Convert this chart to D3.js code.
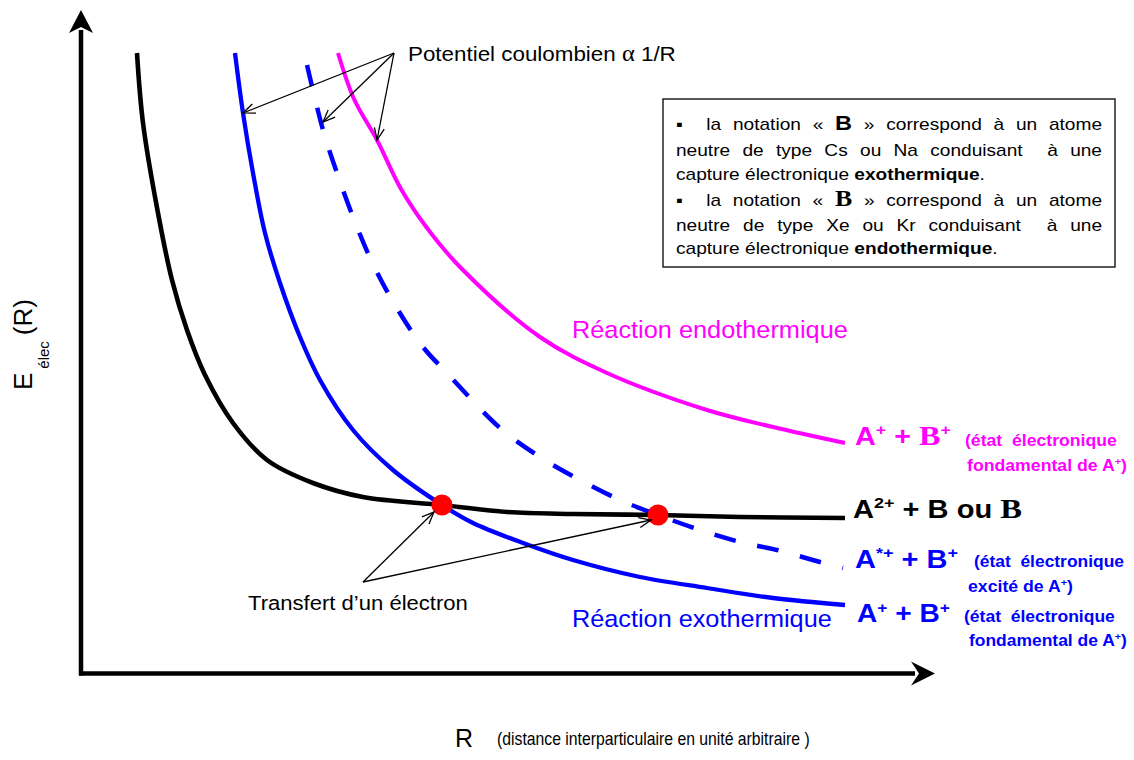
<!DOCTYPE html>
<html><head><meta charset="utf-8">
<script src="https://cdn.jsdelivr.net/npm/d3@7"></script>
<style>
body{margin:0;background:#fff}
svg{display:block}
text{font-family:Arial,"Liberation Sans",sans-serif;white-space:pre}
</style>
</head><body>
<svg id="c" width="1134" height="760"></svg>
<script>
// ---- data (arbitrary units) ----
const blackR=[5.7,6.3,7.8,9.2,10.7,12.5,15.3,18.7,23.3,28.3,36.2,42.7,49.3,57.8,66.0,76.5];
const blackE=[62.2,55.2,46.2,39.5,34.5,30.0,25.2,21.5,19.2,17.8,17.0,16.3,16.1,16.0,15.8,15.7];
const exoR=[15.5,16.3,17.3,18.5,20.0,22.0,24.0,27.3,31.3,36.2,39.3,44.3,49.3,56.0,62.7,69.3,76.5];
const exoE=[62.2,56.2,50.2,44.2,39.2,33.8,29.5,24.5,20.5,17.0,15.2,13.2,11.5,9.8,8.7,7.7,7.0];
const excR=[22.7,24.3,25.7,27.3,29.2,31.5,34.3,36.7,42.0,46.0,50.0,54.0,57.8,62.0,66.0,69.7,74.0,76.3];
const excE=[61.0,54.5,50.2,45.8,41.3,37.0,32.8,30.2,24.7,21.8,19.5,17.5,16.0,14.5,13.3,12.5,11.3,10.7];
const endoR=[25.8,27.4,29.7,32.1,34.7,38.0,46.0,52.7,62.7,69.3,76.5];
const endoE=[62.2,57.6,53.5,48.6,44.7,40.8,33.8,30.2,26.5,24.8,23.2];
const crossR=[36.2,57.8];
const crossE=[17.0,16.0];
// annotation arrows: origin -> targets
const coulombFrom=[31.4,62.2];
const coulombTo=[[16.3,56.2],[24.3,55.3],[29.7,53.5]];
const transferFrom=[28.3,9.3];
const transferTo=[[35.4,16.3],[57.1,15.5]];

const M='#FF00FF', BL='#0000FF', RED='#FF0000';
const svg=d3.select('#c');
const x=d3.scaleLinear().domain([0,85]).range([80,930]);
const y=d3.scaleLinear().domain([0,66.5]).range([675,10]);
const zip=(a,b)=>a.map((v,i)=>[v,b[i]]);
const line=d3.line().x(d=>x(d[0])).y(d=>y(d[1])).curve(d3.curveCatmullRom.alpha(0.5));

const defs=svg.append('defs');
defs.append('marker').attr('id','open').attr('viewBox','-14 -8 16 16')
  .attr('markerWidth',16).attr('markerHeight',16).attr('markerUnits','userSpaceOnUse')
  .attr('refX',0).attr('refY',0).attr('orient','auto')
  .append('path').attr('d','M-12,-5L0,0L-12,5').attr('fill','none').attr('stroke','#000').attr('stroke-width',1.3);

// ---- axes ----
const ax=x(0.1), ay=y(0.15);
svg.append('line').attr('x1',ax).attr('y1',ay+2).attr('x2',ax).attr('y2',y(64.5))
  .attr('stroke','#000').attr('stroke-width',4.5);
const ty=y(66.5);
svg.append('path').attr('d',`M${ax},${ty}L${ax-12},${ty+23}L${ax},${ty+17}L${ax+12},${ty+23}Z`).attr('fill','#000');
svg.append('line').attr('x1',ax-2).attr('y1',ay).attr('x2',x(83.5)).attr('y2',ay)
  .attr('stroke','#000').attr('stroke-width',4.5);
const tx=x(85.5);
svg.append('path').attr('d',`M${tx},${ay}L${tx-24},${ay-12}L${tx-16},${ay}L${tx-24},${ay+12}Z`).attr('fill','#000');

// ---- curves ----
svg.append('path').attr('d',line(zip(endoR,endoE))).attr('fill','none').attr('stroke',M).attr('stroke-width',4);
svg.append('path').attr('d',line(zip(excR,excE))).attr('fill','none').attr('stroke',BL).attr('stroke-width',4.5).attr('stroke-dasharray','22,22');
svg.append('path').attr('d',line(zip(exoR,exoE))).attr('fill','none').attr('stroke',BL).attr('stroke-width',4.3);
svg.append('path').attr('d',line(zip(blackR,blackE))).attr('fill','none').attr('stroke','#000').attr('stroke-width',4.6);
svg.selectAll('circle.cross').data(zip(crossR,crossE)).enter().append('circle').attr('class','cross')
  .attr('cx',d=>x(d[0])).attr('cy',d=>y(d[1])).attr('r',10.5).attr('fill',RED);

// ---- annotation arrows ----
function arrows(from,tos){
  tos.forEach(t=>{
    svg.append('line').attr('x1',x(from[0])).attr('y1',y(from[1])).attr('x2',x(t[0])).attr('y2',y(t[1]))
      .attr('stroke','#000').attr('stroke-width',1.3).attr('marker-end','url(#open)');
  });
}
arrows(coulombFrom,coulombTo);
arrows(transferFrom,transferTo);

// ---- text helpers ----
function rich(parent,x0,yb,size,fill,weight,segs){
  const t=parent.append('text').attr('x',x0).attr('y',yb).attr('font-size',size).attr('fill',fill).attr('font-weight',weight);
  let cur=0;
  segs.forEach(s=>{
    if(typeof s==='string') s={t:s};
    const target=s.sup?-size*0.38:(s.sub||0);
    const ts=t.append('tspan').text(s.t);
    if(target!==cur) ts.attr('dy',target-cur);
    cur=target;
    if(s.dx) ts.attr('dx',s.dx);
    if(s.sup) ts.attr('font-size',size*0.62);
    if(s.size) ts.attr('font-size',s.size);
    if(s.serif) ts.attr('font-family','"Liberation Serif","Times New Roman",serif');
    if(s.w) ts.attr('font-weight',s.w);
  });
  return t;
}
function fit(t,w){
  const n=t.node().getComputedTextLength();
  const x0=+t.attr('x'), k=w/n;
  t.attr('transform',`translate(${x0},0) scale(${k},1) translate(${-x0},0)`);
  return t;
}

// ---- labels ----
fit(rich(svg,408,61.5,21,'#000','normal',['Potentiel coulombien ',{t:'α',serif:1,size:23},' 1/R']),268);
fit(rich(svg,248,610,21,'#000','normal',['Transfert d’un électron']),220);
fit(rich(svg,572,338.5,24,M,'normal',['Réaction endothermique']),276);
fit(rich(svg,572,627,24,BL,'normal',['Réaction exothermique']),260);
rich(svg,455,747,25,'#000','normal',['R']);
fit(rich(svg,497,745,17.5,'#000','normal',['(distance interparticulaire en unité arbitraire )']),313);

// right-hand labels
fit(rich(svg,855,445,25,M,'bold',['A',{t:'+',sup:1},' + ',{t:'B',serif:1,size:28},{t:'+',sup:1}]),96);
fit(rich(svg,965,446.5,16,M,'bold',['(état  électronique']),152);
fit(rich(svg,967,471.5,16,M,'bold',['fondamental de A',{t:'+',sup:1},')']),160);
fit(rich(svg,853,518,25,'#000','bold',['A',{t:'2+',sup:1},' + B ou ',{t:'B',serif:1,size:28}]),169);
fit(rich(svg,855,568,25,BL,'bold',['A',{t:'*+',sup:1},' + B',{t:'+',sup:1}]),103);
fit(rich(svg,974,567.5,16,BL,'bold',['(état  électronique']),150);
fit(rich(svg,968,592.5,16,BL,'bold',['excité de A',{t:'+',sup:1},')']),105);
fit(rich(svg,857,622.5,25,BL,'bold',['A',{t:'+',sup:1},' + B',{t:'+',sup:1}]),93);
fit(rich(svg,964,622,16,BL,'bold',['(état  électronique']),151);
fit(rich(svg,969,646.5,16,BL,'bold',['fondamental de A',{t:'+',sup:1},')']),158);

// y label
const yl=svg.append('g').attr('transform','translate(32,390) rotate(-90)');
rich(yl,0,0,26,'#000','normal',['E',{t:'élec',size:15,sub:17,dx:4},{t:'(R)',dx:6}]);

// ---- legend box ----
svg.append('rect').attr('x',663).attr('y',99).attr('width',452).attr('height',168)
  .attr('fill','#fff').attr('stroke','#000').attr('stroke-width',1.3);
const lg=svg.append('g');
const L=[
  {y:130, j:1, segs:['▪  la notation « ',{t:'B',w:'bold',size:21},' » correspond à un atome']},
  {y:156.5, j:1, segs:['neutre de type Cs ou Na conduisant  à une']},
  {y:180, j:0, segs:['capture électronique ',{t:'exothermique',w:'bold'},'.']},
  {y:206.5, j:1, segs:['▪  la notation « ',{t:'B',w:'bold',serif:1,size:23},' » correspond à un atome']},
  {y:231.5, j:1, segs:['neutre de type Xe ou Kr conduisant  à une']},
  {y:254.5, j:0, segs:['capture électronique ',{t:'endothermique',w:'bold'},'.']}
];
const lt=L.map(l=>rich(lg,0,l.y,17,'#000','normal',l.segs));
const k=309/lt[2].node().getComputedTextLength();
lg.attr('transform',`translate(676,0) scale(${k},1)`);
const W=426/k;
L.forEach((l,i)=>{
  if(!l.j) return;
  const t=lt[i];
  const w=t.node().getComputedTextLength();
  const txt=t.text();
  const ns=(txt.match(/ /g)||[]).length;
  t.attr('word-spacing',(W-w)/ns);
});
</script>
</body></html>
